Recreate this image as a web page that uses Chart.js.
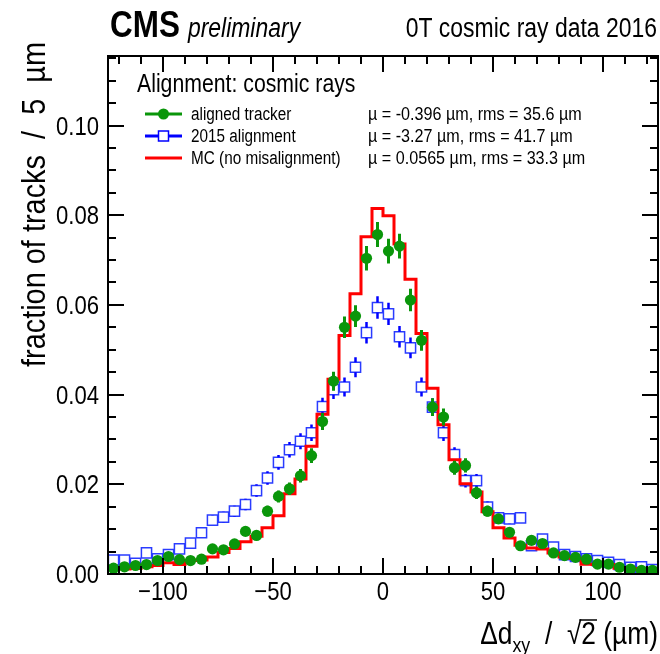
<!DOCTYPE html>
<html>
<head>
<meta charset="utf-8">
<title>Track residuals, cosmic rays 2016</title>
<script src="https://cdn.jsdelivr.net/npm/chart.js@4.4.1/dist/chart.umd.min.js"></script>
<style>
  html, body { margin: 0; padding: 0; background: #fff; }
  #wrap { width: 660px; height: 654px; }
</style>
</head>
<body>
<div id="wrap"><canvas id="residualChart" width="660" height="654"></canvas></div>
<script>
// bin centres in µm (5 µm bins from -125 to 125)
const binCenters = [
  -122.5, -117.5, -112.5, -107.5, -102.5, -97.5, -92.5, -87.5, -82.5, -77.5,
  -72.5, -67.5, -62.5, -57.5, -52.5, -47.5, -42.5, -37.5, -32.5, -27.5,
  -22.5, -17.5, -12.5, -7.5, -2.5, 2.5, 7.5, 12.5, 17.5, 22.5,
  27.5, 32.5, 37.5, 42.5, 47.5, 52.5, 57.5, 62.5, 67.5, 72.5,
  77.5, 82.5, 87.5, 92.5, 97.5, 102.5, 107.5, 112.5, 117.5, 122.5
];

// aligned tracker (green points)
const alignedTracker = [
  0.0013, 0.0016, 0.0019, 0.0021, 0.0030, 0.0039, 0.0032, 0.0030, 0.0033, 0.0056,
  0.0054, 0.0067, 0.0095, 0.0086, 0.0140, 0.0173, 0.0190, 0.0219, 0.0264, 0.0340,
  0.0430, 0.0550, 0.0575, 0.0704, 0.0757, 0.0720, 0.0731, 0.0611, 0.0521, 0.0372,
  0.0350, 0.0237, 0.0242, 0.0181, 0.0140, 0.0123, 0.0093, 0.0063, 0.0075, 0.0068,
  0.0047, 0.0041, 0.0037, 0.0033, 0.0022, 0.0022, 0.0015, 0.0011, 0.0008, 0.0008
];
const alignedErrors = [
  0.00037, 0.00041, 0.00044, 0.00047, 0.00056, 0.00064, 0.00058, 0.00056, 0.00059, 0.00076,
  0.00075, 0.00084, 0.00099, 0.00095, 0.00120, 0.00134, 0.00140, 0.00151, 0.00166, 0.00188,
  0.00212, 0.00239, 0.00245, 0.00271, 0.00281, 0.00274, 0.00276, 0.00252, 0.00233, 0.00197,
  0.00191, 0.00157, 0.00159, 0.00137, 0.00120, 0.00113, 0.00098, 0.00081, 0.00088, 0.00084,
  0.00070, 0.00065, 0.00062, 0.00059, 0.00048, 0.00048, 0.00040, 0.00034, 0.00029, 0.00029
];

// 2015 alignment (blue open squares)
const alignment2015 = [
  0.0031, 0.0031, 0.0024, 0.0047, 0.0034, 0.0043, 0.0056, 0.0069, 0.0092, 0.0120,
  0.0127, 0.0140, 0.0155, 0.0186, 0.0214, 0.0249, 0.0277, 0.0296, 0.0315, 0.0373,
  0.0411, 0.0417, 0.0461, 0.0538, 0.0594, 0.0580, 0.0529, 0.0504, 0.0417, 0.0372,
  0.0315, 0.0266, 0.0208, 0.0208, 0.0149, 0.0125, 0.0123, 0.0125, 0.0063, 0.0078,
  0.0060, 0.0043, 0.0039, 0.0034, 0.0030, 0.0026, 0.0021, 0.0015, 0.0016, 0.0010
];
const alignment2015Errors = [
  0.00057, 0.00057, 0.00050, 0.00071, 0.00060, 0.00068, 0.00077, 0.00086, 0.00099, 0.00113,
  0.00116, 0.00122, 0.00128, 0.00140, 0.00151, 0.00163, 0.00171, 0.00177, 0.00183, 0.00199,
  0.00209, 0.00210, 0.00221, 0.00239, 0.00251, 0.00248, 0.00237, 0.00231, 0.00210, 0.00199,
  0.00183, 0.00168, 0.00149, 0.00149, 0.00126, 0.00115, 0.00114, 0.00115, 0.00082, 0.00091,
  0.00080, 0.00068, 0.00064, 0.00060, 0.00056, 0.00053, 0.00047, 0.00040, 0.00041, 0.00033
];

// MC without misalignment (red histogram)
const mcNoMisalignment = [
  0.0011, 0.0011, 0.0012, 0.0016, 0.0019, 0.0025, 0.0021, 0.0030, 0.0031, 0.0038,
  0.0048, 0.0057, 0.0072, 0.0084, 0.0103, 0.0130, 0.0179, 0.0212, 0.0285, 0.0356,
  0.0434, 0.0532, 0.0625, 0.0752, 0.0815, 0.0799, 0.0736, 0.0657, 0.0536, 0.0414,
  0.0333, 0.0255, 0.0201, 0.0183, 0.0139, 0.0103, 0.0080, 0.0064, 0.0058, 0.0056,
  0.0047, 0.0038, 0.0035, 0.0022, 0.0021, 0.0021, 0.0013, 0.0012, 0.0011, 0.0009
];

// axis ticks
const xTicks = [-100, -50, 0, 50, 100];
const yTicks = [0, 0.02, 0.04, 0.06, 0.08, 0.10];

// legend texts
const seriesLabels = ['aligned tracker', '2015 alignment', 'MC (no misalignment)'];
const seriesStats = [
  'µ = -0.396 µm, rms = 35.6 µm',
  'µ = -3.27 µm, rms = 41.7 µm',
  'µ = 0.0565 µm, rms = 33.3 µm'
];

const GREEN = '#0a960a';
const BLUE = '#0000ff';
const RED = '#ff0000';
const FONT = '"Liberation Sans", Arial, Helvetica, sans-serif';
const SX = 0.85; // text is a bit condensed in the original

let myChart;

// draw text squeezed horizontally, returns drawn width
function drawText(ctx, s, x, y, font, align) {
  ctx.save();
  ctx.font = font;
  const w = ctx.measureText(s).width * SX;
  let x0 = x;
  if (align === 'right') x0 = x - w;
  if (align === 'center') x0 = x - w / 2;
  ctx.translate(x0, y);
  ctx.scale(SX, 1);
  ctx.textAlign = 'left';
  ctx.textBaseline = 'alphabetic';
  ctx.fillStyle = '#000';
  ctx.fillText(s, 0, 0);
  ctx.restore();
  return w;
}

// vertical error bars, drawn outside the marker like ROOT does
const errorBarPlugin = {
  id: 'errorBars',
  afterDatasetDraw(chart, args) {
    const ds = chart.data.datasets[args.index];
    if (!ds.errors) return;
    const ctx = chart.ctx;
    const yScale = chart.scales.y;
    ctx.save();
    ctx.strokeStyle = ds.errorColor;
    ctx.lineWidth = ds.errorWidth;
    args.meta.data.forEach((pt, i) => {
      const v = ds.data[i].y;
      const e = ds.errors[i];
      const top = yScale.getPixelForValue(v + e);
      const bot = yScale.getPixelForValue(Math.max(0, v - e));
      const gap = ds.markerHalf;
      ctx.beginPath();
      if (pt.y - top > gap) { ctx.moveTo(pt.x, top); ctx.lineTo(pt.x, pt.y - gap); }
      if (bot - pt.y > gap) { ctx.moveTo(pt.x, pt.y + gap); ctx.lineTo(pt.x, bot); }
      ctx.stroke();
    });
    ctx.restore();
  }
};

// frame, inward ticks, labels, titles and legend
const decorPlugin = {
  id: 'decor',
  afterDraw(chart) {
    const ctx = chart.ctx;
    const a = chart.chartArea;
    const xs = chart.scales.x;
    const ys = chart.scales.y;

    ctx.save();
    ctx.strokeStyle = '#000';
    ctx.lineWidth = 2;
    ctx.strokeRect(a.left, a.top, a.right - a.left, a.bottom - a.top);

    // x ticks (bottom and top)
    ctx.beginPath();
    for (let v = -120; v <= 120; v += 10) {
      const px = Math.round(xs.getPixelForValue(v));
      const len = v % 50 === 0 ? 16 : 8;
      ctx.moveTo(px, a.bottom); ctx.lineTo(px, a.bottom - len);
      ctx.moveTo(px, a.top); ctx.lineTo(px, a.top + len);
    }
    // y ticks (left and right)
    for (let k = 0; k * 0.005 <= ys.max + 1e-9; k++) {
      const py = Math.round(ys.getPixelForValue(k * 0.005));
      const len = k % 4 === 0 ? 16 : 8;
      ctx.moveTo(a.left, py); ctx.lineTo(a.left + len, py);
      ctx.moveTo(a.right, py); ctx.lineTo(a.right - len, py);
    }
    ctx.stroke();
    ctx.restore();

    // tick labels
    const tickFont = '26px ' + FONT;
    xTicks.forEach(v => {
      const label = v < 0 ? '\u2212' + Math.abs(v) : String(v);
      drawText(ctx, label, xs.getPixelForValue(v), 600, tickFont, 'center');
    });
    yTicks.forEach(v => {
      drawText(ctx, v.toFixed(2), 99, ys.getPixelForValue(v) + 9, tickFont, 'right');
    });

    // y axis title, rotated and aligned to the top
    ctx.save();
    ctx.translate(45, 42);
    ctx.rotate(-Math.PI / 2);
    ctx.scale(SX, 1);
    ctx.font = '34px ' + FONT;
    ctx.textAlign = 'right';
    ctx.fillStyle = '#000';
    ctx.fillText('fraction of tracks  /  5  µm', 0, 0);
    ctx.restore();

    // x axis title: Δd_xy / √2 (µm), right aligned
    const big = '31px ' + FONT;
    const sub = '21px ' + FONT;
    const parts = [
      { s: 'Δd', f: big, dy: 0 },
      { s: 'xy', f: sub, dy: 8 },
      { s: '  /  ', f: big, dy: 0 },
      { s: '\u221A', f: big, dy: 0 },
      { s: '2', f: big, dy: 0, over: true },
      { s: ' (µm)', f: big, dy: 0 }
    ];
    let total = 0;
    parts.forEach(p => { ctx.font = p.f; p.w = ctx.measureText(p.s).width * SX; total += p.w; });
    let cx = 658 - total;
    parts.forEach(p => {
      drawText(ctx, p.s, cx, 644 + p.dy, p.f, 'left');
      if (p.over) {
        ctx.save();
        ctx.strokeStyle = '#000';
        ctx.lineWidth = 1.5;
        ctx.beginPath();
        ctx.moveTo(cx - 2, 620); ctx.lineTo(cx + p.w + 1, 620);
        ctx.stroke();
        ctx.restore();
      }
      cx += p.w;
    });

    // header line above the frame
    const w = drawText(ctx, 'CMS', 110, 37, 'bold 37px ' + FONT, 'left');
    drawText(ctx, 'preliminary', 110 + w + 8, 37, 'italic 27px ' + FONT, 'left');
    drawText(ctx, '0T cosmic ray data 2016', 657, 37, '27px ' + FONT, 'right');

    // legend
    drawText(ctx, 'Alignment: cosmic rays', 137, 92, '25px ' + FONT, 'left');
    const rows = [114, 136, 158];
    const colors = [GREEN, BLUE, RED];
    rows.forEach((ry, i) => {
      ctx.save();
      ctx.strokeStyle = colors[i];
      ctx.lineWidth = 3;
      ctx.beginPath();
      ctx.moveTo(145, ry); ctx.lineTo(182, ry);
      ctx.stroke();
      if (i === 0) {
        ctx.fillStyle = GREEN;
        ctx.beginPath();
        ctx.arc(163.5, ry, 5.5, 0, Math.PI * 2);
        ctx.fill();
      } else if (i === 1) {
        ctx.fillStyle = '#fff';
        ctx.fillRect(158.5, ry - 5, 10, 10);
        ctx.lineWidth = 1.5;
        ctx.strokeRect(158.5, ry - 5, 10, 10);
      }
      ctx.restore();
      drawText(ctx, seriesLabels[i], 191, ry + 6, '18px ' + FONT, 'left');
      drawText(ctx, seriesStats[i], 368, ry + 6, '19px ' + FONT, 'left');
    });
  }
};

function drawChart() {
  if (myChart) {
    myChart.destroy();
  }

  const greenPoints = binCenters.map((x, i) => ({ x: x, y: alignedTracker[i] }));
  const bluePoints = binCenters.map((x, i) => ({ x: x, y: alignment2015[i] }));
  // histogram outline: value held from the left edge of each bin
  const mcSteps = binCenters.map((x, i) => ({ x: x - 2.5, y: mcNoMisalignment[i] }));
  mcSteps.push({ x: 125, y: mcNoMisalignment[mcNoMisalignment.length - 1] });

  const ctx = document.getElementById('residualChart').getContext('2d');
  myChart = new Chart(ctx, {
    type: 'scatter',
    data: {
      datasets: [
        {
          label: seriesLabels[0],
          data: greenPoints,
          order: 0,
          pointStyle: 'circle',
          pointRadius: 5.6,
          backgroundColor: GREEN,
          borderColor: GREEN,
          borderWidth: 0,
          errors: alignedErrors,
          errorColor: GREEN,
          errorWidth: 3,
          markerHalf: 4
        },
        {
          type: 'line',
          label: seriesLabels[2],
          data: mcSteps,
          order: 1,
          stepped: 'before',
          borderColor: RED,
          borderWidth: 3,
          pointRadius: 0,
          fill: false
        },
        {
          label: seriesLabels[1],
          data: bluePoints,
          order: 2,
          pointStyle: 'rect',
          pointRadius: 7.2,
          backgroundColor: 'rgba(0,0,0,0)',
          borderColor: '#2a3cff',
          borderWidth: 1.5,
          errors: alignment2015Errors,
          errorColor: BLUE,
          errorWidth: 2.5,
          markerHalf: 5
        }
      ]
    },
    options: {
      responsive: false,
      animation: false,
      devicePixelRatio: 1,
      layout: { autoPadding: false, padding: { top: 56, right: 2, left: 0, bottom: 0 } },
      plugins: {
        legend: { display: false },
        tooltip: { enabled: false },
        title: { display: false }
      },
      scales: {
        x: {
          type: 'linear',
          min: -125,
          max: 125,
          grid: { display: false },
          border: { display: false },
          ticks: { display: false },
          afterFit: scale => { scale.height = 80; }
        },
        y: {
          type: 'linear',
          min: 0,
          max: 0.1155,
          grid: { display: false },
          border: { display: false },
          ticks: { display: false },
          afterFit: scale => { scale.width = 108; }
        }
      }
    },
    plugins: [errorBarPlugin, decorPlugin]
  });
}

window.onload = function() {
  drawChart();
};
</script>
</body>
</html>
